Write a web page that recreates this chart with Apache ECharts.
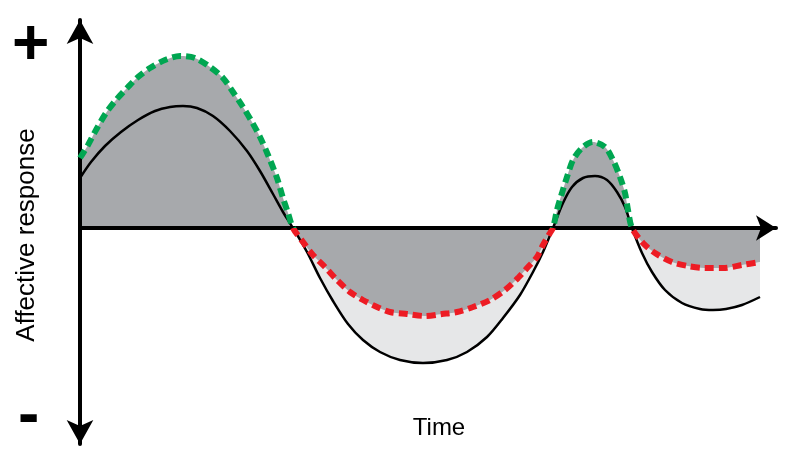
<!DOCTYPE html>
<html>
<head>
<meta charset="utf-8">
<script src="https://cdn.jsdelivr.net/npm/echarts@6/dist/echarts.min.js"></script>
<style>
html,body{margin:0;padding:0;background:#fff;}
#chart{width:787px;height:457px;}
</style>
</head>
<body>
<div id="chart"></div>
<script>
// Time positions (arbitrary units) and affective response values
var actualResponse = [
  [0,50],[11,66],[25,82],[41,96],[58,108],[75,117],[90,121],[103,122],[117,120],[133,112],[150,97],[167,77],
  [180,57],[193,34],[203,16],[213,0],[227,-24],[240,-50],[253,-73],[268,-96],[283,-112],[300,-124],[320,-132],
  [343,-135],[367,-132],[387,-124],[407,-109],[423,-90],[440,-67],[453,-44],[463,-24],[473,0],[483,25],[492,41],
  [503,50],[515,52],[527,48],[537,36],[545,21],[552,0],[562,-25],[572,-44],[585,-62],[602,-75],[620,-81],
  [633,-82],[646,-81],[662,-77],[680,-69]
];
var rememberedResponse = [
  [0,70],[8,83],[16,98],[26,115],[36,128],[48,141],[58,151],[70,160],[85,168],[100,172],[115,170],[130,161],
  [143,150],[153,136],[163,121],[172,106],[180,91],[188,73],[197,50],[203,30],[208,15],[213,0],[223,-14],
  [233,-27],[245,-39],[257,-52],[270,-64],[283,-72],[297,-79],[310,-84],[327,-86],[345,-88],[362,-86],[377,-84],
  [393,-79],[410,-72],[425,-62],[438,-50],[448,-39],[457,-29],[463,-17],[470,-5],[473,0],[477,18],[482,35],
  [487,51],[493,68],[502,80],[513,86],[525,81],[533,68],[540,51],[545,35],[548,18],[552,0],[563,-15],[575,-25],
  [592,-34],[608,-38],[625,-40],[643,-40],[662,-37],[680,-34]
];
var axisTitles = {x: 'Time', y: 'Affective response', plus: '+', minus: '-'};

var GREEN = '#00a651', RED = '#ed1c24';
var chart = echarts.init(document.getElementById('chart'), null, {renderer: 'canvas'});
var FONT = '"Liberation Sans", Arial, sans-serif';
var SMOOTH = 0.3;
var option = {
  animation: false,
  backgroundColor: '#ffffff',
  grid: {left: 80, right: 11, top: 20, bottom: 13, containLabel: false},
  xAxis: {
    type: 'value', min: 0, max: 696, z: 2,
    axisLine: {show: true, onZero: true, symbol: ['none', 'arrow'], symbolSize: [19, 20],
      lineStyle: {color: '#000', width: 4}},
    axisTick: {show: false}, axisLabel: {show: false}, splitLine: {show: false}
  },
  yAxis: {
    type: 'value', min: -216, max: 208, z: 2,
    axisLine: {show: true, symbol: ['arrow', 'arrow'], symbolSize: [20, 24],
      lineStyle: {color: '#000', width: 4}},
    axisTick: {show: false}, axisLabel: {show: false}, splitLine: {show: false}
  },
  series: [
    {type: 'line', data: actualResponse, smooth: SMOOTH, showSymbol: false, z: 1, silent: true,
      lineStyle: {width: 0, opacity: 0}, areaStyle: {color: '#e6e7e8', opacity: 1}},
    {type: 'line', data: rememberedResponse, smooth: SMOOTH, showSymbol: false, z: 1, silent: true,
      lineStyle: {width: 0, opacity: 0}, areaStyle: {color: '#a7a9ac', opacity: 1}},
    {type: 'line', data: actualResponse, smooth: SMOOTH, showSymbol: false, z: 3,
      lineStyle: {color: '#000', width: 2.5}},
    {type: 'line', data: rememberedResponse, smooth: SMOOTH, showSymbol: false, z: 4,
      lineStyle: {width: 6, type: [9, 5], color: GREEN}}
  ],
  graphic: [
    {type: 'text', left: 12, top: 14, style: {text: axisTitles.plus, font: 'bold 64px ' + FONT, fill: '#000'}},
    {type: 'text', left: 18, top: 385, style: {text: axisTitles.minus, font: 'bold 64px ' + FONT, fill: '#000'}},
    {type: 'text', x: 27, y: 235, rotation: Math.PI / 2,
      style: {text: axisTitles.y, font: '26px ' + FONT, fill: '#000', align: 'center', verticalAlign: 'middle'}},
    {type: 'text', x: 439, y: 428, style: {text: axisTitles.x, font: '24px ' + FONT, fill: '#000', align: 'center', verticalAlign: 'middle'}}
  ]
};
chart.setOption(option);

// colour the remembered-response line green above the zero line and red below it
var zeroY = chart.convertToPixel({gridIndex: 0}, [0, 0])[1];
var H = chart.getHeight();
var f = zeroY / H;
chart.setOption({
  series: [{}, {}, {}, {
    lineStyle: {color: new echarts.graphic.LinearGradient(0, 0, 0, H, [
      {offset: 0, color: GREEN}, {offset: f, color: GREEN},
      {offset: f, color: RED}, {offset: 1, color: RED}
    ], true)}
  }]
});
</script>
</body>
</html>
